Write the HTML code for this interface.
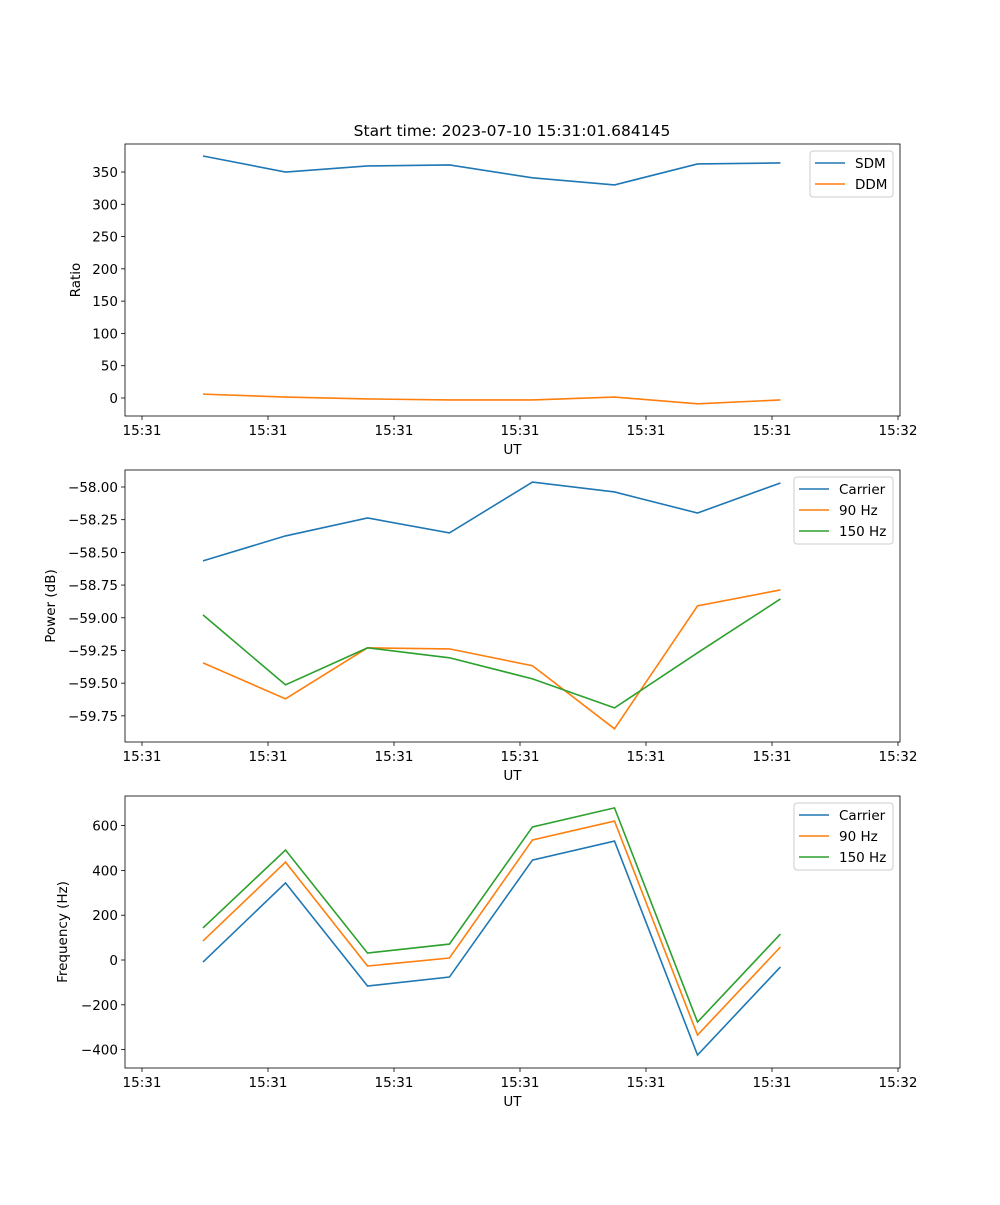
<!DOCTYPE html>
<html><head><meta charset="utf-8">
<style>
body{margin:0;background:#fff;}
svg text{font-family:"DejaVu Sans","Liberation Sans",sans-serif;fill:#000;}
</style></head>
<body>
<svg id="fig" width="1000" height="1200" xmlns="http://www.w3.org/2000/svg">
<rect width="1000" height="1200" fill="#fff"/>
<text x="512" y="136" font-size="15.5" text-anchor="middle">Start time: 2023-07-10 15:31:01.684145</text>
</svg>
<script>
// shared time axis (seconds offset, ticks every unit)
const times = [1.484, 2.139, 2.790, 3.440, 4.099, 4.750, 5.409, 6.067];
const tickValues = [1, 2, 3, 4, 5, 6, 7];
const tickLabels = ["15:31","15:31","15:31","15:31","15:31","15:31","15:32"];
// panel 1
const sdm = [374.8, 350, 359.4, 361, 341, 330, 362.5, 364];
const ddm = [6, 1.5, -1.5, -3, -3, 1.5, -9, -3];
const ratioTicks = [0, 50, 100, 150, 200, 250, 300, 350];
// panel 2
const powCarrier = [-58.565, -58.374, -58.237, -58.351, -57.962, -58.038, -58.199, -57.969];
const pow90 = [-59.345, -59.62, -59.23, -59.238, -59.367, -59.849, -58.909, -58.787];
const pow150 = [-58.978, -59.513, -59.23, -59.306, -59.467, -59.689, -59.268, -58.856];
const powTicks = [-59.75, -59.5, -59.25, -59.0, -58.75, -58.5, -58.25, -58.0];
// panel 3
const freqCarrier = [-9, 344, -116, -76, 446, 531, -424, -31];
const freq90 = [85, 437, -27, 9, 536, 620, -335, 58];
const freq150 = [143, 491, 31, 71, 594, 679, -277, 116];
const freqTicks = [-400, -200, 0, 200, 400, 600];

const NS = "http://www.w3.org/2000/svg";
const svg = document.getElementById("fig");
const C = ["#1f77b4", "#ff7f0e", "#2ca02c"];
function mk(tag, attrs, parent) {
  const e = document.createElementNS(NS, tag);
  for (const k in attrs) e.setAttribute(k, attrs[k]);
  (parent || svg).appendChild(e);
  return e;
}
const L = 125, R = 900;
function xs(t) { return 142 + (t - 1) * 126; }

function panel(id, top, bot, ymin, ymax, yticks, fmt, ylabel, ylabelX, series, names, legW) {
  const g = mk("g", {});
  
  
  const ys = v => bot - (v - ymin) / (ymax - ymin) * (bot - top);
  series.forEach((s, i) => {
    const p = mk("polyline", {points: s.map((v, j) => xs(times[j]) + "," + ys(v)).join(" "), fill: "none", stroke: C[i], "stroke-width": 1.6}, g);
    
    
  });
  const frame = mk("rect", {x: L, y: top, width: R - L, height: bot - top, fill: "none", stroke: "#000", "stroke-width": 0.8}, g);
  
  
  tickValues.forEach((t, i) => {
    const x = xs(t);
    mk("line", {x1: x, x2: x, y1: bot, y2: bot + 4, stroke: "#000", "stroke-width": 0.8}, g);
    const tx = mk("text", {x: x, y: bot + 19, "font-size": 13.5, "text-anchor": "middle"}, g);
    tx.textContent = tickLabels[i];
    
    
  });
  const xl = mk("text", {x: (L + R) / 2, y: bot + 38, "font-size": 13.5, "text-anchor": "middle"}, g);
  xl.textContent = "UT";
  
  
  yticks.forEach(v => {
    const y = ys(v);
    mk("line", {x1: L - 4, x2: L, y1: y, y2: y, stroke: "#000", "stroke-width": 0.8}, g);
    const tx = mk("text", {x: L - 7, y: y + 5, "font-size": 13.5, "text-anchor": "end"}, g);
    tx.textContent = fmt(v);
    
    
  });
  const yl = mk("text", {x: ylabelX, y: (top + bot) / 2, "font-size": 13.5, "text-anchor": "middle", transform: "rotate(-90 " + ylabelX + " " + (top + bot) / 2 + ")"}, g);
  yl.textContent = ylabel;
  
  
  const lg = mk("g", {}, g);
  
  
  const lx = R - 7 - legW, ly = top + 7;
  mk("rect", {x: lx, y: ly, width: legW, height: 4 + names.length * 21, rx: 3, fill: "#fff", "fill-opacity": 0.8, stroke: "#ccc", "stroke-width": 1}, lg);
  names.forEach((n, i) => {
    const y = ly + 12 + i * 21;
    mk("line", {x1: lx + 5, x2: lx + 35, y1: y, y2: y, stroke: C[i], "stroke-width": 1.6}, lg);
    const t = mk("text", {x: lx + 45, y: y + 5, "font-size": 13.5}, lg);
    t.textContent = n;
    
    
  });
}
panel("ratio", 144, 416, -27.9, 393.4, ratioTicks, v => String(v), "Ratio", 80, [sdm, ddm], ["SDM", "DDM"], 83);
panel("power", 470, 742, -59.95, -57.87, powTicks, v => "\u2212" + Math.abs(v).toFixed(2), "Power (dB)", 55, [powCarrier, pow90, pow150], ["Carrier", "90 Hz", "150 Hz"], 99);
panel("frequency", 796, 1068, -482, 732, freqTicks, v => (v < 0 ? "\u2212" : "") + Math.abs(v), "Frequency (Hz)", 67, [freqCarrier, freq90, freq150], ["Carrier", "90 Hz", "150 Hz"], 99);
</script>
</body></html>
